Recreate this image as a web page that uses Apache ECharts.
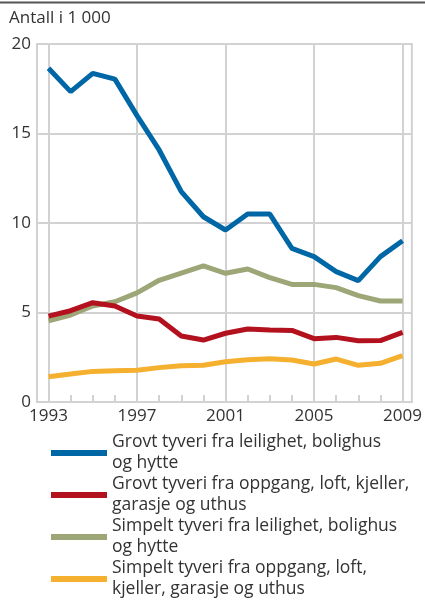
<!DOCTYPE html>
<html><head><meta charset="utf-8">
<script src="https://cdn.jsdelivr.net/npm/echarts@6/dist/echarts.min.js"></script>
<style>html,body{margin:0;padding:0;background:#fff}#c{width:425px;height:607px}</style>
</head><body><div id="c"></div>
<script>
const years = [1993,1994,1995,1996,1997,1998,1999,2000,2001,2002,2003,2004,2005,2006,2007,2008,2009];
const xLabelYears = [1993,1997,2001,2005,2009];
const yTicks = [0,5,10,15,20];
const seriesNames = [
  'Grovt tyveri fra leilighet, bolighus\nog hytte',
  'Grovt tyveri fra oppgang, loft, kjeller,\ngarasje og uthus',
  'Simpelt tyveri fra leilighet, bolighus\nog hytte',
  'Simpelt tyveri fra oppgang, loft,\nkjeller, garasje og uthus'
];
const grovtLeilighet = [18.64,17.34,18.36,18.04,16.0,14.08,11.75,10.35,9.61,10.5,10.5,8.58,8.12,7.28,6.78,8.12,9.01];
const grovtOppgang   = [4.8,5.1,5.55,5.36,4.8,4.64,3.69,3.46,3.84,4.08,4.02,4.0,3.54,3.61,3.42,3.43,3.89];
const simpeltLeilighet = [4.54,4.86,5.36,5.6,6.1,6.8,7.2,7.6,7.19,7.43,6.95,6.57,6.57,6.39,5.94,5.64,5.64];
const simpeltOppgang = [1.41,1.56,1.71,1.75,1.77,1.92,2.03,2.05,2.25,2.36,2.42,2.35,2.12,2.4,2.05,2.16,2.59];

const colors = ['#0067A6','#B3111E','#9CA677','#F4B02E'];
const allData = [grovtLeilighet, grovtOppgang, simpeltLeilighet, simpeltOppgang];
const FONT = 'Open Sans';
const grid = {left:37, right:11, top:44, bottom:205, show:true, borderColor:'#d2d2d2', borderWidth:2, containLabel:false};
const xmin = 1992.48, xmax = 2009.42;

const chart = echarts.init(document.getElementById('c'), null, {renderer:'canvas'});
const legendTops = [421.5, 463.5, 505.5, 547.5];
chart.setOption({
  animation:false,
  textStyle:{fontFamily:FONT},
  title:{text:'Antall i 1 000', left:9, top:10, padding:0, textStyle:{fontFamily:FONT, fontSize:17, fontWeight:'normal', color:'#333'}},
  graphic:[{type:'line', shape:{x1:0,y1:2.5,x2:425,y2:2.5}, style:{stroke:'#555', lineWidth:2}}],
  grid: grid,
  legend: seriesNames.map((n,i)=>({
    data:[n], orient:'vertical', left:51, top:legendTops[i], padding:0,
    itemWidth:56, itemHeight:6, icon:'rect', itemGap:0,
    textStyle:{fontFamily:FONT, fontSize:17.5, color:'#333', lineHeight:21, padding:[21,0,0,0]}
  })),
  xAxis:[{
    type:'value', min:xmin, max:xmax,
    axisLine:{show:true, lineStyle:{color:'#d2d2d2', width:2}},
    axisTick:{show:true, inside:true, length:7, customValues:years, lineStyle:{color:'#d2d2d2', width:2}},
    axisLabel:{customValues:xLabelYears, fontFamily:FONT, fontSize:17, color:'#333', margin:6, formatter:v=>String(v)},
    splitLine:{show:false}
  },{
    type:'value', min:xmin, max:xmax, position:'bottom',
    axisLine:{show:false}, axisLabel:{show:false},
    axisTick:{show:false, customValues:xLabelYears},
    splitLine:{show:true, lineStyle:{color:'#d2d2d2', width:2}}
  }],
  yAxis:{
    type:'value', min:0, max:20, interval:5,
    axisLine:{show:false}, axisTick:{show:false},
    axisLabel:{fontFamily:FONT, fontSize:17, color:'#333', margin:6, customValues:yTicks},
    splitLine:{show:true, lineStyle:{color:'#d2d2d2', width:2}}
  },
  series: seriesNames.map((n,i)=>({
    name:n, type:'line', xAxisIndex:0, showSymbol:false, symbol:'none',
    z: 10-i,
    data: years.map((y,k)=>[y, allData[i][k]]),
    lineStyle:{color:colors[i], width:5},
    itemStyle:{color:colors[i]}
  }))
});
</script></body></html>
